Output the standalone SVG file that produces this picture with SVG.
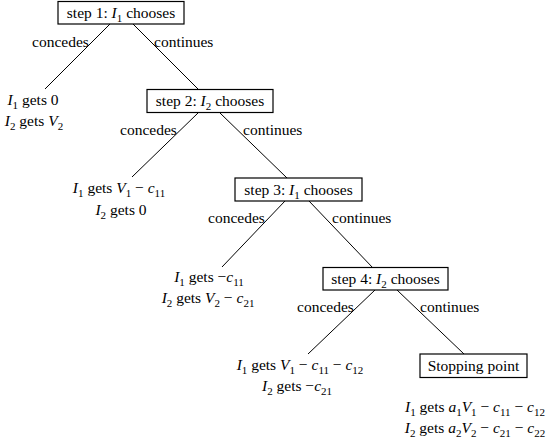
<svg xmlns="http://www.w3.org/2000/svg" width="553" height="443" viewBox="0 0 553 443" font-family="'Liberation Serif', 'Times New Roman', serif">
<style>
text{font-family:'Liberation Serif','Times New Roman',serif;font-size:15.5px;fill:#000}
.m{text-anchor:middle}
.i{font-style:italic}
.s{font-size:11px;baseline-shift:-3.5px}
.box{fill:#fff;stroke:#000;stroke-width:1.2}
.edge{stroke:#000;stroke-width:1;fill:none}
</style>
<rect width="553" height="443" fill="#fff"/>
<g id="connectors">
<line class="edge" x1="110" y1="24" x2="45" y2="89"/>
<line class="edge" x1="133" y1="24" x2="198" y2="89"/>
<line class="edge" x1="198" y1="113" x2="132" y2="177"/>
<line class="edge" x1="220" y1="113" x2="287" y2="178"/>
<line class="edge" x1="285" y1="201" x2="222" y2="267"/>
<line class="edge" x1="309" y1="201" x2="373" y2="268"/>
<line class="edge" x1="375" y1="290" x2="308" y2="354"/>
<line class="edge" x1="397" y1="290" x2="464" y2="354"/>
<text x="32" y="47">concedes</text>
<text x="154" y="47">continues</text>
<text x="120" y="135">concedes</text>
<text x="243" y="135">continues</text>
<text x="208" y="223">concedes</text>
<text x="332" y="223">continues</text>
<text x="297" y="312">concedes</text>
<text x="420" y="312">continues</text>
</g>
<g id="step1">
<rect class="box" x="58" y="1.5" width="126" height="22.5"/>
<text class="m" x="121" y="18">step 1: <tspan class="i">I</tspan><tspan class="s">1</tspan> chooses</text>
</g>
<g id="step2">
<rect class="box" x="147" y="89.5" width="126" height="23"/>
<text class="m" x="210" y="106">step 2: <tspan class="i">I</tspan><tspan class="s">2</tspan> chooses</text>
</g>
<g id="step3">
<rect class="box" x="235" y="178" width="127" height="23"/>
<text class="m" x="298.5" y="194.5">step 3: <tspan class="i">I</tspan><tspan class="s">1</tspan> chooses</text>
</g>
<g id="step4">
<rect class="box" x="323" y="267.5" width="125" height="22.5"/>
<text class="m" x="385.5" y="284">step 4: <tspan class="i">I</tspan><tspan class="s">2</tspan> chooses</text>
</g>
<g id="stop">
<rect class="box" x="420" y="354" width="107" height="23.5"/>
<text class="m" x="473.5" y="371">Stopping point</text>
</g>
<g id="leaf1">
<text class="m" x="33" y="105"><tspan class="i">I</tspan><tspan class="s">1</tspan> gets 0</text>
<text class="m" x="34" y="126"><tspan class="i">I</tspan><tspan class="s">2</tspan> gets <tspan class="i">V</tspan><tspan class="s">2</tspan></text>
</g>
<g id="leaf2">
<text class="m" x="119" y="193"><tspan class="i">I</tspan><tspan class="s">1</tspan> gets <tspan class="i">V</tspan><tspan class="s">1</tspan> − <tspan class="i">c</tspan><tspan class="s">11</tspan></text>
<text class="m" x="121" y="215"><tspan class="i">I</tspan><tspan class="s">2</tspan> gets 0</text>
</g>
<g id="leaf3">
<text class="m" x="209" y="282"><tspan class="i">I</tspan><tspan class="s">1</tspan> gets −<tspan class="i">c</tspan><tspan class="s">11</tspan></text>
<text class="m" x="208" y="303"><tspan class="i">I</tspan><tspan class="s">2</tspan> gets <tspan class="i">V</tspan><tspan class="s">2</tspan> − <tspan class="i">c</tspan><tspan class="s">21</tspan></text>
</g>
<g id="leaf4">
<text class="m" x="300" y="370"><tspan class="i">I</tspan><tspan class="s">1</tspan> gets <tspan class="i">V</tspan><tspan class="s">1</tspan> − <tspan class="i">c</tspan><tspan class="s">11</tspan> − <tspan class="i">c</tspan><tspan class="s">12</tspan></text>
<text class="m" x="297" y="391"><tspan class="i">I</tspan><tspan class="s">2</tspan> gets −<tspan class="i">c</tspan><tspan class="s">21</tspan></text>
</g>
<g id="leaf5">
<text class="m" x="475" y="412"><tspan class="i">I</tspan><tspan class="s">1</tspan> gets <tspan class="i">a</tspan><tspan class="s">1</tspan><tspan class="i">V</tspan><tspan class="s">1</tspan> − <tspan class="i">c</tspan><tspan class="s">11</tspan> − <tspan class="i">c</tspan><tspan class="s">12</tspan></text>
<text class="m" x="475" y="433"><tspan class="i">I</tspan><tspan class="s">2</tspan> gets <tspan class="i">a</tspan><tspan class="s">2</tspan><tspan class="i">V</tspan><tspan class="s">2</tspan> − <tspan class="i">c</tspan><tspan class="s">21</tspan> − <tspan class="i">c</tspan><tspan class="s">22</tspan></text>
</g>
</svg>
